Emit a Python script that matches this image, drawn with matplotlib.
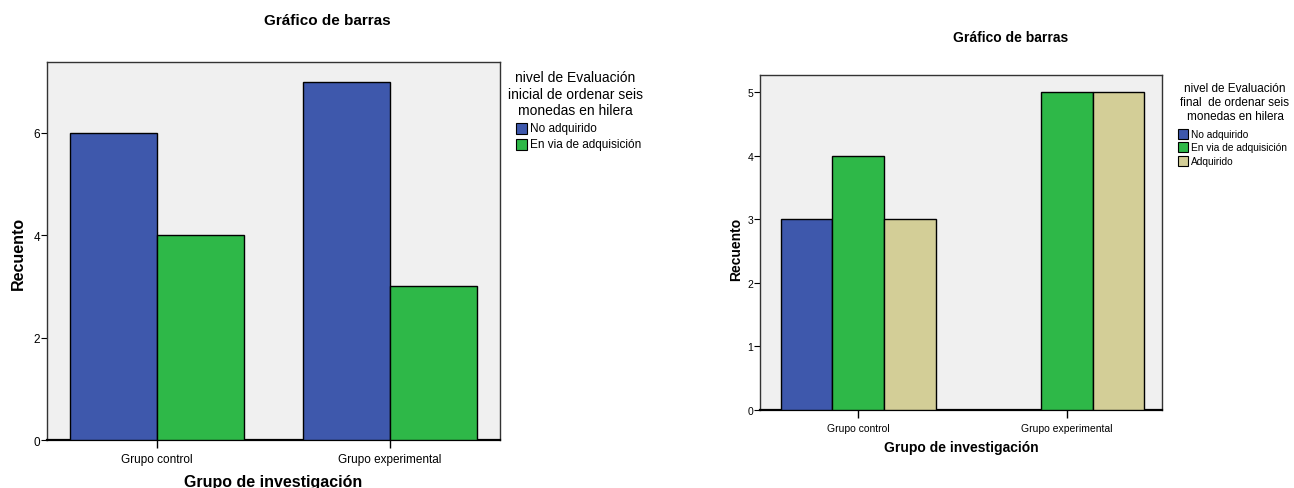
import matplotlib
matplotlib.use('Agg')
from matplotlib import pyplot as plt
from matplotlib.patches import Rectangle
import numpy as np

plt.rcParams['font.family'] = ['Liberation Sans', 'DejaVu Sans']

grupos = ['Grupo control', 'Grupo experimental']

# evaluación inicial
niveles_ini = ['No adquirido', 'En via de adquisición']
no_adq_ini = [6, 7]
en_via_ini = [4, 3]

# evaluación final
niveles_fin = ['No adquirido', 'En via de adquisición', 'Adquirido']
no_adq_fin = [3, 0]
en_via_fin = [4, 5]
adq_fin = [3, 5]

colores = ['#3e58ac', '#2eb848', '#d3ce97']
fondo = '#f0f0f0'

W, H = 1294, 489
fig = plt.figure(figsize=(W / 100, H / 100), dpi=100)


def barras(ax, series, ancho, ylim, yticks, tick_fs):
    x = np.arange(len(grupos))
    n = len(series)
    for i, vals in enumerate(series):
        off = (i - (n - 1) / 2) * ancho
        for xi, v in zip(x, vals):
            if v > 0:
                ax.bar(xi + off, v, ancho, color=colores[i], edgecolor='black', linewidth=1.0, zorder=3)
    ax.set_facecolor(fondo)
    ax.set_ylim(0, ylim)
    ax.set_yticks(yticks)
    ax.set_xticks(x)
    ax.set_xticklabels(grupos, fontsize=tick_fs)
    ax.tick_params(axis='y', labelsize=tick_fs, length=4, width=0.8, pad=1)
    ax.tick_params(axis='x', length=6, width=1.0, pad=3)
    for s in ax.spines.values():
        s.set_linewidth(1.0)
        s.set_color('#333333')
    ax.spines['bottom'].set_linewidth(1.6)
    ax.spines['bottom'].set_color('black')


def leyenda(titulo, cx, ys_titulo, fs_titulo, etiquetas, px, ys, lado, fs):
    # título centrado y cuadros de color con su texto, en píxeles de la figura
    for linea, y in zip(titulo, ys_titulo):
        fig.text(cx / W, 1 - y / H, linea, ha='center', va='center', fontsize=fs_titulo)
    for i, (et, y) in enumerate(zip(etiquetas, ys)):
        fig.patches.append(Rectangle((px / W, 1 - (y + lado / 2) / H), lado / W, lado / H,
                                     facecolor=colores[i], edgecolor='black', linewidth=0.8,
                                     transform=fig.transFigure, figure=fig))
        fig.text((px + lado + 3) / W, 1 - y / H, et, ha='left', va='center', fontsize=fs)


# gráfico izquierdo
ax1 = fig.add_axes([0.0363, 0.098, 0.350, 0.773])
barras(ax1, [no_adq_ini, en_via_ini], 0.373, 7.38, [0, 2, 4, 6], 8.5)
ax1.set_xlim(-0.472, 1.472)
fig.text(0.253, 0.958, 'Gráfico de barras', ha='center', va='center', fontsize=11, fontweight='bold')
fig.text(0.014, 0.482, 'Recuento', rotation=90, ha='center', va='center', fontsize=11.5, fontweight='bold')
fig.text(0.211, 0.014, 'Grupo de investigación', ha='center', va='center', fontsize=11.5, fontweight='bold')
leyenda(['nivel de Evaluación', 'inicial de ordenar seis', 'monedas en hilera'], 575, [78, 95, 111], 10,
        niveles_ini, 516, [129, 145], 11, 8.5)

# gráfico derecho
ax2 = fig.add_axes([0.5873, 0.1595, 0.3107, 0.685])
barras(ax2, [no_adq_fin, en_via_fin, adq_fin], 0.248, 5.27, [0, 1, 2, 3, 4, 5], 7.5)
ax2.set_xlim(-0.471, 1.457)
fig.text(0.781, 0.922, 'Gráfico de barras', ha='center', va='center', fontsize=10, fontweight='bold')
fig.text(0.569, 0.49, 'Recuento', rotation=90, ha='center', va='center', fontsize=10, fontweight='bold')
fig.text(0.743, 0.084, 'Grupo de investigación', ha='center', va='center', fontsize=10, fontweight='bold')
leyenda(['nivel de Evaluación', 'final  de ordenar seis', 'monedas en hilera'], 1235, [89, 103, 117], 8.5,
        niveles_fin, 1178, [135, 148, 162], 10, 7.3)

fig.savefig('out.png', dpi=100)
